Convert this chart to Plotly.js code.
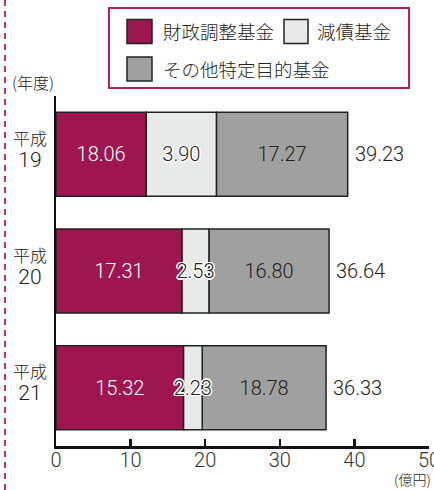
<!DOCTYPE html>
<html>
<head>
<meta charset="utf-8">
<script src="https://cdn.plot.ly/plotly-3.0.1.min.js"></script>
<style>html,body{margin:0;padding:0;background:#fff;}#chart{width:434px;height:490px;}</style>
</head>
<body>
<div id="chart"></div>
<script>
// ---- data ----
var categories = ['平成19', '平成20', '平成21'];
var yearEra = ['平成', '平成', '平成'];
var yearNum = ['19', '20', '21'];
var seriesNames = ['財政調整基金', '減債基金', 'その他特定目的基金'];
// bar lengths as drawn in the reference picture (億円)
var zaiseiLen = [12.1, 16.9, 17.1];
var gensaiLen = [9.4, 3.6, 2.5];
var sonotaLen = [17.6, 16.1, 16.6];
// printed value labels
var zaiseiText = ['18.06', '17.31', '15.32'];
var gensaiText = ['3.90', '2.53', '2.23'];
var sonotaText = ['17.27', '16.80', '18.78'];
var totalText = ['39.23', '36.64', '36.33'];
var xTicks = [0, 10, 20, 30, 40, 50];

// ---- styling ----
var C_ZAISEI = '#9E1650', C_GENSAI = '#E8E9E9', C_SONOTA = '#A0A0A0';
var NUMFONT = 'Roboto, "Noto Sans CJK JP", sans-serif';
var JPFONT = '"Noto Sans CJK JP", sans-serif';
var M = {l: 56, r: 5, t: 96, b: 44};
var W = 434, H = 490, PW = W - M.l - M.r, PH = H - M.t - M.b;
function px(x) { return (x - M.l) / PW; }
function py(y) { return (H - M.b - y) / PH; }

// stacking bases (drawn in overlay mode so the small middle segment's label stays on top)
var gensaiBase = zaiseiLen.slice();
var sonotaBase = zaiseiLen.map(function (v, i) { return v + gensaiLen[i]; });
var totals = sonotaBase.map(function (v, i) { return v + sonotaLen[i]; });

var HALO = '-1px -1px 0 #fff, 1px -1px 0 #fff, -1px 1px 0 #fff, 1px 1px 0 #fff, 0 1.5px 0 #fff, 0 -1.5px 0 #fff, 1.5px 0 0 #fff, -1.5px 0 0 #fff';
function barTrace(name, len, base, txt, color, tcolor, halo) {
  return {
    type: 'bar', orientation: 'h', name: name,
    y: categories, x: len, base: base, text: txt,
    textposition: 'inside', insidetextanchor: 'middle', textangle: 0,
    constraintext: 'none', cliponaxis: false,
    marker: {color: color, line: {color: '#222', width: 1.5}},
    textfont: {family: NUMFONT, size: 20, weight: 300, color: tcolor, shadow: halo ? HALO : 'none'},
    hoverinfo: 'skip'
  };
}
var traces = [
  barTrace(seriesNames[0], zaiseiLen, [0, 0, 0], zaiseiText, C_ZAISEI, '#fff', false),
  barTrace(seriesNames[2], sonotaLen, sonotaBase, sonotaText, C_SONOTA, '#222', false),
  barTrace(seriesNames[1], gensaiLen, gensaiBase, gensaiText, C_GENSAI, '#222', true)
];

var annotations = [];
categories.forEach(function (c, i) {
  annotations.push({
    xref: 'paper', yref: 'y', x: px(30), y: c, xanchor: 'center', yanchor: 'middle',
    yshift: 6, showarrow: false, align: 'center',
    text: yearEra[i] + '<br><span style="font-size:21px;font-family:Roboto,sans-serif">' + yearNum[i] + '</span>',
    font: {family: JPFONT, size: 17, weight: 300, color: '#222'}
  });
  annotations.push({
    xref: 'x', yref: 'y', x: totals[i], y: c,
    xanchor: 'left', yanchor: 'middle', xshift: 5, showarrow: false,
    text: totalText[i], font: {family: NUMFONT, size: 20, weight: 300, color: '#222'}
  });
});
annotations.push({xref: 'paper', yref: 'paper', x: px(10), y: py(82), xanchor: 'left', yanchor: 'middle',
  showarrow: false, text: '(年度)', font: {family: JPFONT, size: 16, weight: 300, color: '#222'}});
annotations.push({xref: 'paper', yref: 'paper', x: px(433), y: py(479), xanchor: 'right', yanchor: 'middle',
  showarrow: false, text: '(億円)', font: {family: JPFONT, size: 14, weight: 300, color: '#222'}});
// legend texts
annotations.push({xref: 'paper', yref: 'paper', x: px(161), y: py(31.5), xanchor: 'left', yanchor: 'middle',
  showarrow: false, text: seriesNames[0], font: {family: JPFONT, size: 18.5, weight: 300, color: '#222'}});
annotations.push({xref: 'paper', yref: 'paper', x: px(315), y: py(31.5), xanchor: 'left', yanchor: 'middle',
  showarrow: false, text: seriesNames[1], font: {family: JPFONT, size: 18.5, weight: 300, color: '#222'}});
annotations.push({xref: 'paper', yref: 'paper', x: px(161), y: py(68.5), xanchor: 'left', yanchor: 'middle',
  showarrow: false, text: seriesNames[2], font: {family: JPFONT, size: 18.5, weight: 300, color: '#222'}});

function rect(x0, y0, x1, y1, fill, lc, lw) {
  return {type: 'rect', xref: 'paper', yref: 'paper', x0: px(x0), x1: px(x1), y0: py(y1), y1: py(y0),
    fillcolor: fill, line: {color: lc, width: lw}, layer: 'above'};
}
var shapes = [
  {type: 'line', xref: 'paper', yref: 'paper', x0: px(5), x1: px(5), y0: py(490), y1: py(0),
    line: {color: '#C8326F', width: 2, dash: '6px,5px'}},
  rect(109, 8, 409, 88, 'rgba(0,0,0,0)', '#B81F58', 2),
  rect(127, 19.5, 152, 43.5, C_ZAISEI, '#222', 1.5),
  rect(284, 19.5, 308, 43.5, C_GENSAI, '#222', 1.5),
  rect(127, 57, 152, 81, C_SONOTA, '#222', 1.5)
];

var layout = {
  width: W, height: H, margin: M, showlegend: false,
  paper_bgcolor: '#fff', plot_bgcolor: '#fff',
  barmode: 'overlay', bargap: 0.28,
  xaxis: {range: [0, 50], tickvals: xTicks, ticks: 'inside', ticklen: 7, tickwidth: 2.5,
    tickcolor: '#111', showline: true, linecolor: '#111', linewidth: 3, showgrid: false,
    zeroline: false, ticklabeloverflow: 'allow', ticklabelstandoff: -6,
    tickfont: {family: NUMFONT, size: 20, weight: 300, color: '#333'}, fixedrange: true},
  yaxis: {type: 'category', autorange: 'reversed', showline: true, linecolor: '#111', linewidth: 2.5,
    showticklabels: false, ticks: '', showgrid: false, zeroline: false, fixedrange: true},
  annotations: annotations, shapes: shapes
};
Plotly.newPlot('chart', traces, layout, {displayModeBar: false, staticPlot: true});
</script>
</body>
</html>
